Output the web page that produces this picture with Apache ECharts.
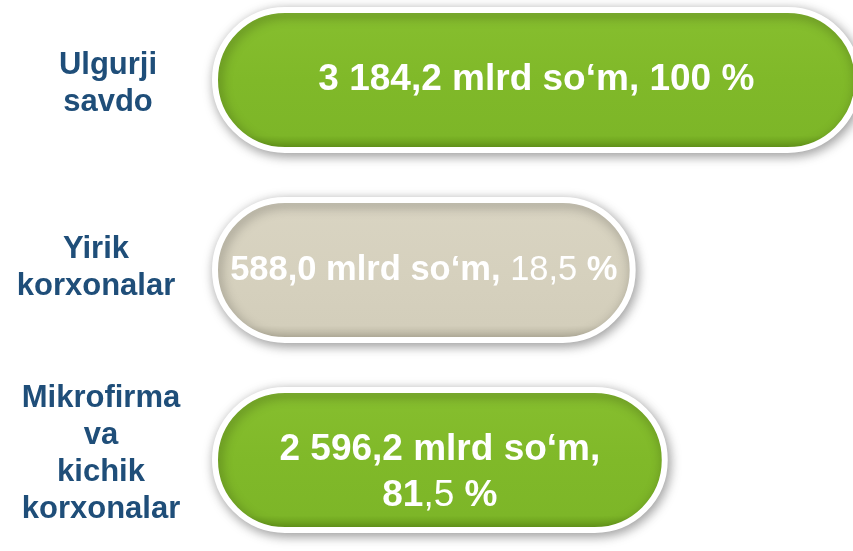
<!DOCTYPE html>
<html>
<head>
<meta charset="utf-8">
<script src="https://cdn.jsdelivr.net/npm/echarts@6/dist/echarts.min.js"></script>
<style>html,body{margin:0;background:#fff}#main{width:853px;height:551px}</style>
</head>
<body>
<div id="main"></div>
<script>
// data
var categories = ['Ulgurji\nsavdo', 'Yirik\nkorxonalar', 'Mikrofirma\nva\nkichik\nkorxonalar'];
var amounts = [3184.2, 588.0, 2596.2];   // mlrd so'm
var shares = [100, 18.5, 81.5];          // %
var pillLength = [101.2, 66.1, 71.1];    // how long each pill is drawn (0-100 scale)

var FONT = 'Liberation Sans, Arial, sans-serif';

function fmtNum(v, dec) {
  var s = v.toFixed(dec).split('.');
  var int = s[0].replace(/\B(?=(\d{3})+(?!\d))/g, ' ');
  return s.length > 1 ? int + ',' + s[1] : int;
}

function grad(c) {
  return new echarts.graphic.LinearGradient(0, 0, 0, 1, [
    {offset: 0, color: c[0]}, {offset: 0.07, color: c[1]},
    {offset: 0.5, color: c[2]}, {offset: 0.88, color: c[3]},
    {offset: 0.96, color: c[4]}, {offset: 1, color: c[5]}
  ]);
}
var green = ['#95ca40', '#86be2e', '#80b929', '#7db628', '#689d1b', '#5a8c14'];
var beige = ['#e2decd', '#d9d4c2', '#d6d1be', '#d3cebb', '#bdb8a4', '#aaa591'];

function labelFor(i) {
  var amt = fmtNum(amounts[i], 1) + ' mlrd so‘m,';
  var sh = Number.isInteger(shares[i]) ? String(shares[i]) : fmtNum(shares[i], 1);
  var size = [37, 34.5, 37][i];
  var txt;
  if (i === 0) {
    txt = '{b|' + amt + ' ' + sh + ' %}';
  } else if (i === 1) {
    txt = '{b|' + amt + ' }{n|' + sh + '}{b| %}';
  } else {
    var p = sh.split(',');
    txt = '{b|' + amt + '}\n{b|' + p[0] + '}{n|,' + p[1] + '}{b| %}';
  }
  return {
    show: true,
    position: 'inside',
    offset: i === 2 ? [0, 13] : [0, 0],
    formatter: txt,
    rich: {
      b: {fontFamily: FONT, fontWeight: 'bold', fontSize: size, color: '#fff', lineHeight: 46},
      n: {fontFamily: FONT, fontWeight: 'normal', fontSize: size, color: '#fff', lineHeight: 46}
    }
  };
}

var barData = pillLength.map(function (v, i) {
  return {
    value: v,
    itemStyle: {color: grad(i === 1 ? beige : green)},
    label: labelFor(i)
  };
});

// nudge the left-hand captions a little, as in the picture
var catData = categories.map(function (c, i) {
  if (i === 1) return {value: c, textStyle: {align: 'center', padding: [0, 24, 0, 0]}};
  if (i === 2) return {value: c, textStyle: {align: 'center', padding: [0, 14, 0, 0]}};
  return c;
});

var myChart = echarts.init(document.getElementById('main'));
var option = {
  backgroundColor: '#fff',
  animation: false,
  grid: {left: 212, right: 0, top: 80, bottom: 91, outerBoundsMode: 'none', containLabel: false},
  xAxis: {type: 'value', min: 0, max: 100, show: false},
  yAxis: {
    type: 'category',
    data: catData,
    inverse: true,
    boundaryGap: false,
    axisLine: {show: false},
    axisTick: {show: false},
    splitLine: {show: false},
    axisLabel: {
      interval: 0,
      align: 'center',
      margin: 104,
      formatter: function (value, idx) {
        var s = value.split('\n').map(function (l) { return '{a|' + l + '}'; }).join('\n');
        if (idx === 0) s = '{s0| }\n' + s;
        if (idx === 1) s += '\n{s1| }';
        if (idx === 2) s += '\n{s2| }';
        return s;
      },
      rich: {
        a: {color: '#1f4e79', fontFamily: FONT, fontWeight: 'bold', fontSize: 31, lineHeight: 37},
        s0: {fontSize: 1, lineHeight: 8},
        s1: {fontSize: 1, lineHeight: 5},
        s2: {fontSize: 1, lineHeight: 12}
      }
    }
  },
  series: [{
    type: 'bar',
    data: barData,
    barWidth: 146,
    clip: false,
    itemStyle: {
      borderRadius: 73,
      borderColor: '#fff',
      borderWidth: 6,
      shadowBlur: 12,
      shadowColor: 'rgba(0,0,0,0.35)',
      shadowOffsetX: 2,
      shadowOffsetY: 3
    }
  }]
};
myChart.setOption(option);
</script>
</body>
</html>
